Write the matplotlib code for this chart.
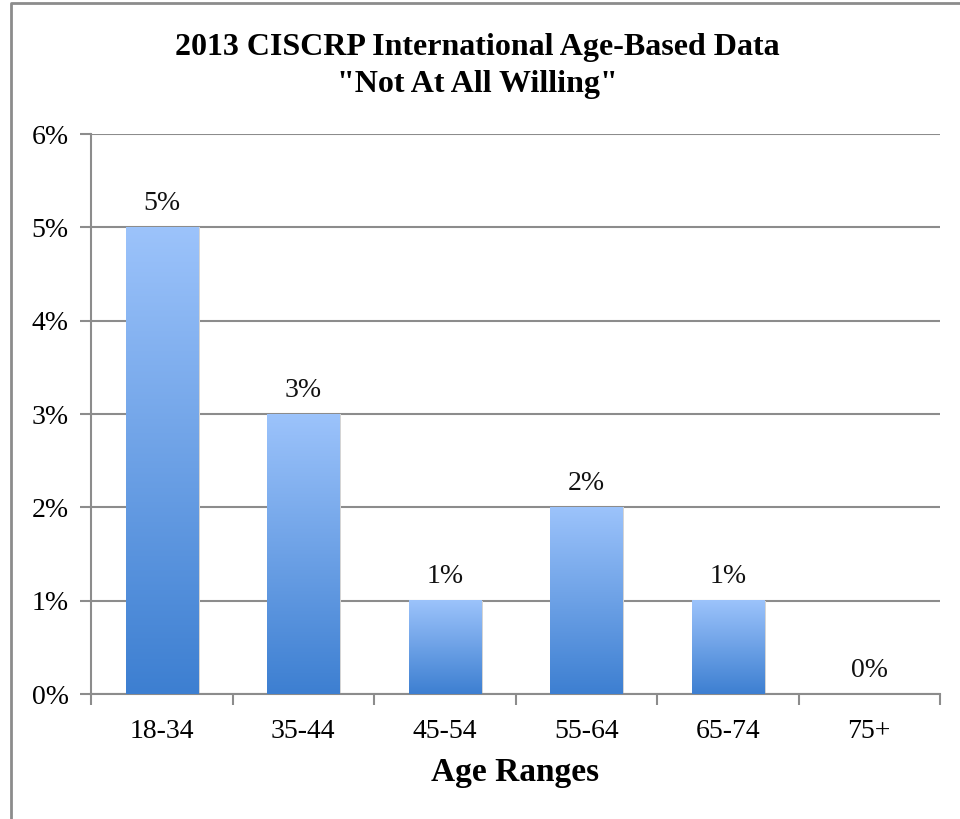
import matplotlib
matplotlib.use("Agg")
import matplotlib.pyplot as plt
import numpy as np
from matplotlib.colors import LinearSegmentedColormap
from matplotlib.lines import Line2D

categories = ["18-34", "35-44", "45-54", "55-64", "65-74", "75+"]
values = [5, 3, 1, 2, 1, 0]
labels = ["5%", "3%", "1%", "2%", "1%", "0%"]
yticks = [0, 1, 2, 3, 4, 5, 6]
ytick_labels = ["0%", "1%", "2%", "3%", "4%", "5%", "6%"]
title = "2013 CISCRP International Age-Based Data\n\"Not At All Willing\""
xlabel = "Age Ranges"

serif = ["Liberation Serif", "DejaVu Serif"]
fig = plt.figure(figsize=(9.6, 8.19), dpi=100)
ax = fig.add_axes([91/960, 1-694/819, (940-91)/960, (694-134)/819])

cmap = LinearSegmentedColormap.from_list("g", ["#3d7fd1", "#9cc3fb"])
grad = np.linspace(0, 1, 256).reshape(-1, 1)
width = 0.51
x = np.arange(len(categories))
for xi, v in zip(x, values):
    if v > 0:
        ax.bar(xi + 0.012, v, width=width, color="#d4d4d4", zorder=2, linewidth=0)
        ax.imshow(grad, cmap=cmap, origin="lower", aspect="auto",
                  extent=(xi - width/2, xi + width/2, 0, v), zorder=3)

for xi, v, lab in zip(x, values, labels):
    ax.text(xi, v + 0.12, lab, ha="center", va="bottom", fontsize=20,
            family=serif, color="#111111")

ax.set_xlim(-0.5, len(categories) - 0.5)
ax.set_ylim(0, 6)
ax.set_yticks(yticks)
ax.set_yticklabels(ytick_labels, family=serif, fontsize=20)
ax.set_xticks(x)
ax.set_xticklabels(categories, family=serif, fontsize=20)
ax.set_xticks(np.arange(-0.5, len(categories)), minor=True)
ax.tick_params(axis="x", which="major", length=0, pad=18)
ax.tick_params(axis="x", which="minor", length=8, width=1.5, color="#8c8c8c")
ax.tick_params(axis="y", length=8, width=1.5, color="#8c8c8c", pad=8)
ax.yaxis.grid(True, color="#8c8c8c", linewidth=1.5, zorder=0)
ax.set_axisbelow(True)
for s in ["top", "right"]:
    ax.spines[s].set_visible(False)
for s in ["left", "bottom"]:
    ax.spines[s].set_color("#8c8c8c")
    ax.spines[s].set_linewidth(1.5)

ax.set_xlabel(xlabel, family=serif, fontsize=24, fontweight="bold", labelpad=9)
fig.text(477/960, 1-66/819, title, ha="center", va="center", fontsize=23,
         fontweight="bold", family=serif, linespacing=1.35)

fig.add_artist(Line2D([11/960, 11/960, 1.0], [0, 1-3/819, 1-3/819],
                      transform=fig.transFigure, color="#8c8c8c", linewidth=2))

fig.savefig("out.png", dpi=100)
